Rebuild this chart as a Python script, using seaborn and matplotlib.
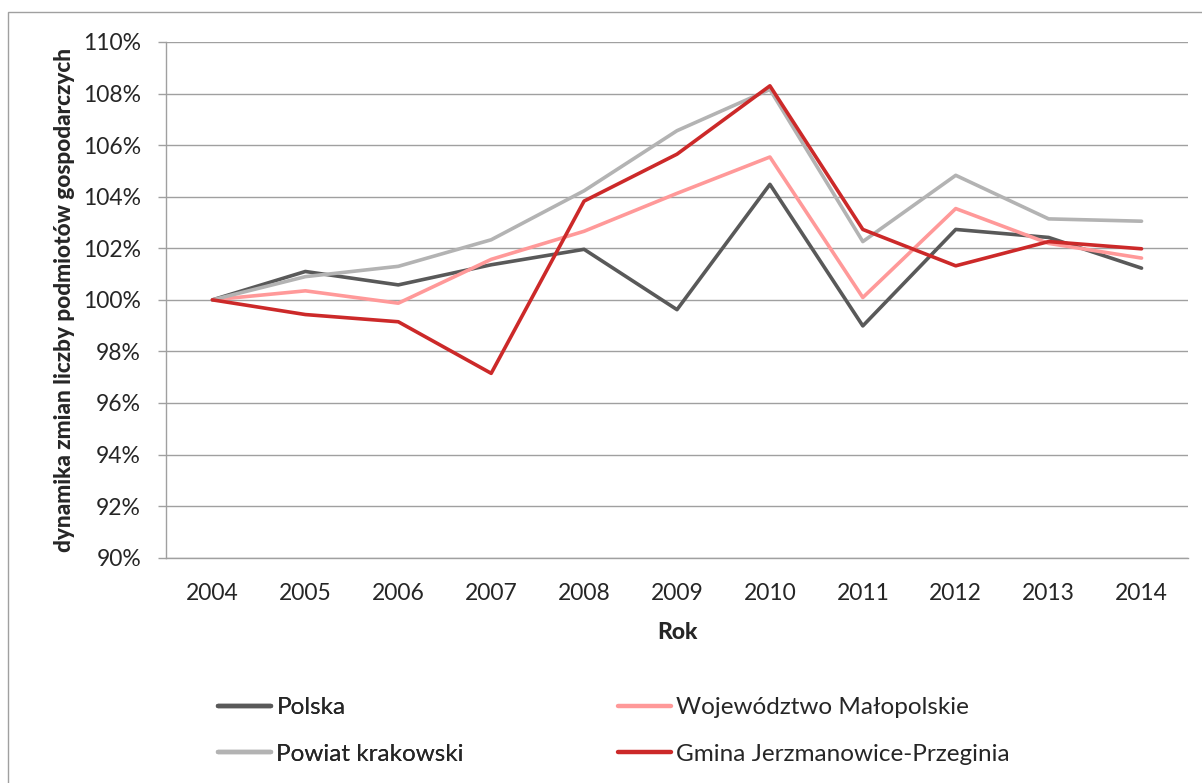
import matplotlib.pyplot as plt
import matplotlib.ticker as mticker
from matplotlib.lines import Line2D
from matplotlib.patches import Rectangle
import pandas as pd
import seaborn as sns

# dane (w %)
lata = [2004, 2005, 2006, 2007, 2008, 2009, 2010, 2011, 2012, 2013, 2014]
polska = [100.0, 101.1, 100.58, 101.36, 101.96, 99.62, 104.48, 98.99, 102.73, 102.42, 101.23]
wojewodztwo = [100.0, 100.35, 99.87, 101.57, 102.66, 104.13, 105.54, 100.09, 103.54, 102.19, 101.62]
powiat = [100.0, 100.9, 101.3, 102.33, 104.23, 106.56, 108.16, 102.26, 104.83, 103.14, 103.05]
gmina = [100.0, 99.43, 99.15, 97.15, 103.83, 105.65, 108.3, 102.73, 101.32, 102.26, 101.98]

serie = ["Polska", "Województwo Małopolskie", "Powiat krakowski", "Gmina Jerzmanowice-Przeginia"]
kolory = ["#595959", "#FF9999", "#B3B3B3", "#CC2929"]

df = pd.DataFrame({
    "Rok": lata * 4,
    "wartosc": polska + wojewodztwo + powiat + gmina,
    "seria": sum([[s] * len(lata) for s in serie], []),
})

sns.set_style("white")
plt.rcParams["font.family"] = ["Lato", "DejaVu Sans"]

fig = plt.figure(figsize=(12.02, 7.83), dpi=100)
ax = fig.add_axes([166 / 1202, 1 - 557.7 / 783, 1022 / 1202, (557.7 - 42) / 783])

sns.lineplot(data=df, x="Rok", y="wartosc", hue="seria", hue_order=serie,
             palette=kolory, linewidth=2.6, ax=ax, legend=False, zorder=3)

ax.set_ylim(90, 110)
ax.set_xlim(2003.5, 2014.5)
ax.yaxis.set_major_locator(mticker.MultipleLocator(2))
ax.yaxis.set_major_formatter(mticker.FuncFormatter(lambda v, p: f"{v:.0f}%"))
ax.set_xticks(lata)
ax.set_xticks([x + 0.5 for x in [2003] + lata], minor=True)
ax.tick_params(axis="x", which="major", length=0, pad=18, labelsize=16.5)
ax.tick_params(axis="x", which="minor", length=6, direction="in", color="#A0A0A0", width=1)
ax.tick_params(axis="y", length=6, direction="out", color="#A0A0A0", width=1, pad=12, labelsize=16.5, left=True)
ax.grid(axis="y", color="#A0A0A0", linewidth=1)
ax.grid(axis="x", visible=False)
for s in ["top", "right"]:
    ax.spines[s].set_visible(False)
for s in ["left", "bottom"]:
    ax.spines[s].set_color("#A0A0A0")
    ax.spines[s].set_linewidth(1)

ax.set_xlabel("Rok", fontweight="black", fontsize=16.5, labelpad=13)
ax.set_ylabel("dynamika zmian liczby podmiotów gospodarczych", fontweight="black", fontsize=16.3, labelpad=6)

uchwyty = [Line2D([], [], color=c, linewidth=3.2) for c in kolory]
opcje = dict(loc="center left", frameon=False, fontsize=17.5, handlelength=2.2, handletextpad=0.2,
             labelspacing=1.05, borderpad=0, borderaxespad=0)
leg1 = fig.legend([uchwyty[0], uchwyty[2]], [serie[0], serie[2]],
                  bbox_to_anchor=(218 / 1202, 1 - 731 / 783), **opcje)
fig.legend([uchwyty[1], uchwyty[3]], [serie[1], serie[3]],
           bbox_to_anchor=(618 / 1202, 1 - 731 / 783), **opcje)
fig.add_artist(leg1)

# ramka wykresu
fig.add_artist(Rectangle((8 / 1202, -0.05), 1.2, 1 - 12 / 783 + 0.05, transform=fig.transFigure,
                         fill=False, edgecolor="#A0A0A0", linewidth=1))

fig.savefig("out.png", dpi=100)
